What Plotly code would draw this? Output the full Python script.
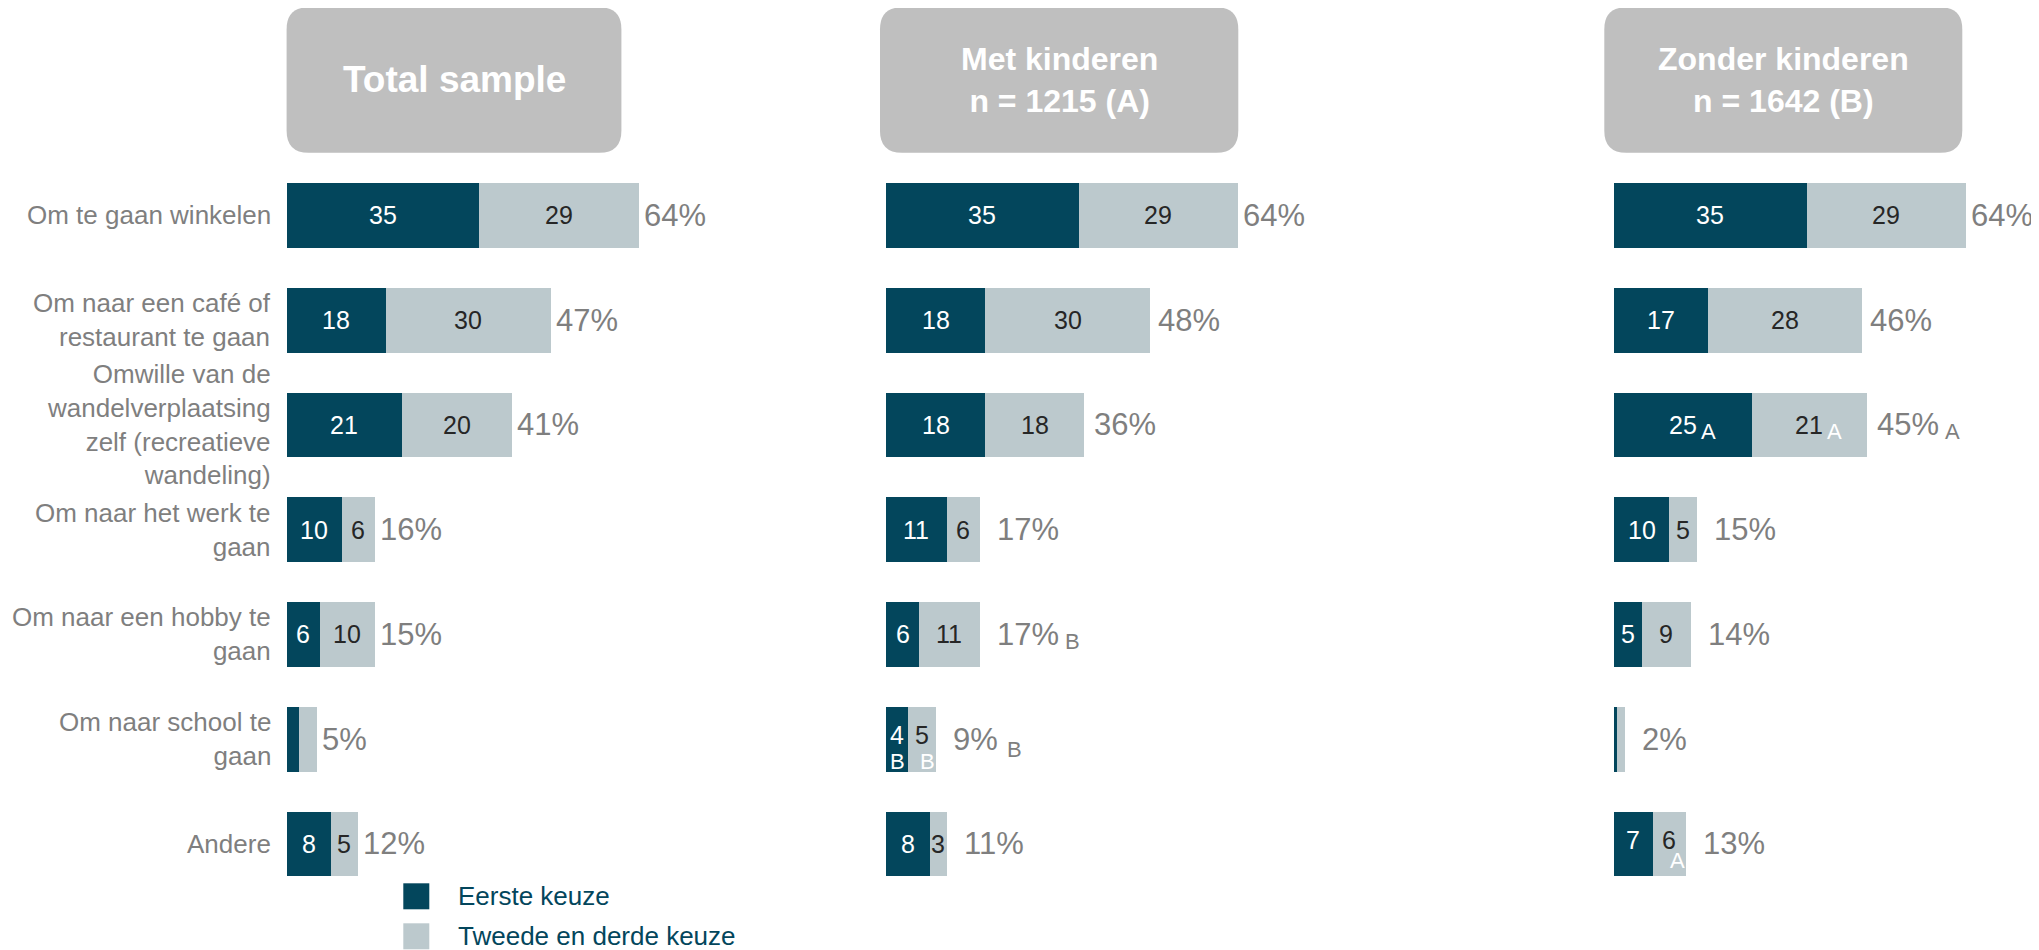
import plotly.graph_objects as go

# ---------------- data ----------------
categories = [
    "Om te gaan winkelen",
    "Om naar een café of restaurant te gaan",
    "Omwille van de wandelverplaatsing zelf (recreatieve wandeling)",
    "Om naar het werk te gaan",
    "Om naar een hobby te gaan",
    "Om naar school te gaan",
    "Andere",
]
category_labels = [
    "Om te gaan winkelen",
    "Om naar een café of<br>restaurant te gaan",
    "Omwille van de<br>wandelverplaatsing<br>zelf (recreatieve<br>wandeling)",
    "Om naar het werk te<br>gaan",
    "Om naar een hobby te<br>gaan",
    "Om naar school te<br>gaan",
    "Andere",
]
panel_titles = ["Total sample", "Met kinderen<br>n = 1215 (A)", "Zonder kinderen<br>n = 1642 (B)"]
series_names = ["Eerste keuze", "Tweede en derde keuze"]

total_first = [35, 18, 21, 10, 6, 2.3, 8]
total_second = [29, 30, 20, 6, 10, 3.2, 5]
total_pct = [64, 47, 41, 16, 15, 5, 12]

met_first = [35, 18, 18, 11, 6, 4, 8]
met_second = [29, 30, 18, 6, 11, 5, 3]
met_pct = [64, 48, 36, 17, 17, 9, 11]

zonder_first = [35, 17, 25, 10, 5, 0.6, 7]
zonder_second = [29, 28, 21, 5, 9, 1.4, 6]
zonder_pct = [64, 46, 45, 15, 14, 2, 13]

# value labels that are not printed (bar too thin): (panel, row)
unlabelled = [(0, 5), (2, 5)]

# significance letters: (panel, row, part, letter)
sig_letters = [
    (1, 4, "total", "B"),
    (1, 5, "first", "B"),
    (1, 5, "second", "B"),
    (1, 5, "total", "B"),
    (2, 2, "first", "A"),
    (2, 2, "second", "A"),
    (2, 2, "total", "A"),
    (2, 6, "second", "A"),
]

# ---------------- style ----------------
W, H = 2039, 950
OFF = 8  # page body margin
DARK = "#03465C"
LIGHT = "#BCC9CD"
HEAD = "#BFBFBF"
GREY = "#7F7F7F"
TXT_DARK = "#262626"
FONT = "Arial, Liberation Sans, sans-serif"
PX_PER_UNIT = 5.5
XMAX = 70
panel_left_px = [286.5, 886, 1614]
header_boxes_px = [(286.6, 7.3, 621.4, 152.7), (880, 7.3, 1238.3, 152.7), (1604.3, 7.3, 1962.3, 152.7)]
header_sizes = [37, 32, 32]
plot_top_px, plot_bot_px = 163, 896.3
pct_gap = [[3] * 7, [3, 6, 8, 15, 15, 15, 15], [3, 6, 8, 15, 15, 15, 15]]
PCT_SIZE = 31
LETTER_SIZE = 22
# placement of in-bar letters
letter_mode = {(1, 5): "below", (2, 2): "right", (2, 6): "below-right"}
# approximate Arial advance widths (em) used to place letters after texts
CHAR_W = {"%": 0.889}

firsts = [total_first, met_first, zonder_first]
seconds = [total_second, met_second, zonder_second]
pcts = [total_pct, met_pct, zonder_pct]


def px(x):
    return (x - OFF) / W


def py(y):
    return 1 - (y - OFF) / H


def text_w(s, size):
    return sum(CHAR_W.get(c, 0.556) for c in s) * size


fig = go.Figure()
annotations = []
shapes = []

for p in range(3):
    xa = "x" if p == 0 else f"x{p+1}"
    ya = "y" if p == 0 else f"y{p+1}"
    fig.add_trace(go.Bar(y=categories, x=firsts[p], orientation="h", name=series_names[0],
                         marker=dict(color=DARK, line=dict(width=0)), xaxis=xa, yaxis=ya,
                         showlegend=False))
    fig.add_trace(go.Bar(y=categories, x=seconds[p], orientation="h", name=series_names[1],
                         marker=dict(color=LIGHT, line=dict(width=0)), xaxis=xa, yaxis=ya,
                         showlegend=False))
    x0 = panel_left_px[p]
    dom = [px(x0), px(x0 + XMAX * PX_PER_UNIT)]
    axkey = "xaxis" if p == 0 else f"xaxis{p+1}"
    aykey = "yaxis" if p == 0 else f"yaxis{p+1}"
    fig.update_layout(**{
        axkey: dict(domain=dom, range=[0, XMAX], visible=False, fixedrange=True, anchor=ya),
        aykey: dict(domain=[py(plot_bot_px), py(plot_top_px)], type="category",
                    categoryorder="array", categoryarray=categories,
                    range=[6.5, -0.5], visible=False, anchor=xa),
    })

    sig_here = {(r, part): l for (pp, r, part, l) in sig_letters if pp == p}

    for r, cat in enumerate(categories):
        f, s = firsts[p][r], seconds[p][r]
        mode = letter_mode.get((p, r))
        vshift = 4 if mode in ("below", "below-right") else 0
        if (p, r) not in unlabelled:
            annotations.append(dict(x=f / 2, y=cat, xref=xa, yref=ya, text=f"{f:g}",
                                    showarrow=False, font=dict(family=FONT, size=25, color="white"),
                                    xanchor="center", yanchor="middle", yshift=vshift))
            annotations.append(dict(x=f + s / 2, y=cat, xref=xa, yref=ya, text=f"{s:g}",
                                    showarrow=False, font=dict(family=FONT, size=25, color=TXT_DARK),
                                    xanchor="center", yanchor="middle", yshift=vshift))
        # in-bar significance letters
        for part, cx, val in (("first", f / 2, f), ("second", f + s / 2, s)):
            if (r, part) in sig_here:
                letter = sig_here[(r, part)]
                if mode == "right":
                    xs = text_w(f"{val:g}", 25) / 2 + 2
                    annotations.append(dict(x=cx, y=cat, xref=xa, yref=ya, text=letter,
                                            showarrow=False, font=dict(family=FONT, size=LETTER_SIZE, color="white"),
                                            xanchor="left", yanchor="middle", xshift=xs, yshift=-7))
                elif mode == "below":
                    annotations.append(dict(x=cx, y=cat, xref=xa, yref=ya, text=letter,
                                            showarrow=False, font=dict(family=FONT, size=LETTER_SIZE, color="white"),
                                            xanchor="center", yanchor="middle",
                                            xshift=0 if part == "first" else 6, yshift=-22))
                else:
                    annotations.append(dict(x=cx, y=cat, xref=xa, yref=ya, text=letter,
                                            showarrow=False, font=dict(family=FONT, size=LETTER_SIZE, color="white"),
                                            xanchor="center", yanchor="middle", xshift=8, yshift=-17))
        # total percentage
        pct_txt = f"{pcts[p][r]}%"
        annotations.append(dict(x=f + s, y=cat, xref=xa, yref=ya, text=pct_txt, showarrow=False,
                                font=dict(family=FONT, size=PCT_SIZE, color=GREY),
                                xanchor="left", yanchor="middle", xshift=pct_gap[p][r]))
        if (r, "total") in sig_here:
            gap_letter = 10 if pcts[p][r] < 10 else 6
            annotations.append(dict(x=f + s, y=cat, xref=xa, yref=ya, text=sig_here[(r, "total")],
                                    showarrow=False,
                                    font=dict(family=FONT, size=LETTER_SIZE, color=GREY),
                                    xanchor="left", yanchor="middle",
                                    xshift=pct_gap[p][r] + text_w(pct_txt, PCT_SIZE) + gap_letter,
                                    yshift=-7 if pcts[p][r] >= 10 else -10))

    # header box
    bx0, by0, bx1, by1 = header_boxes_px[p]
    rad = 22
    pts = [("M", bx0 + rad, by0), ("L", bx1 - rad, by0), ("Q", bx1, by0, bx1, by0 + rad),
           ("L", bx1, by1 - rad), ("Q", bx1, by1, bx1 - rad, by1), ("L", bx0 + rad, by1),
           ("Q", bx0, by1, bx0, by1 - rad), ("L", bx0, by0 + rad), ("Q", bx0, by0, bx0 + rad, by0)]
    path = ""
    for cmd in pts:
        c = cmd[0]
        coords = cmd[1:]
        seg = " ".join(f"{px(coords[i]):.6f},{py(coords[i+1]):.6f}" for i in range(0, len(coords), 2))
        path += f"{c} {seg} "
    path += "Z"
    shapes.append(dict(type="path", path=path, xref="paper", yref="paper",
                       fillcolor=HEAD, line=dict(width=0), layer="below"))
    annotations.append(dict(x=px((bx0 + bx1) / 2), y=py((by0 + by1) / 2), xref="paper", yref="paper",
                            text=f"<b>{panel_titles[p]}</b>", showarrow=False,
                            font=dict(family=FONT, size=header_sizes[p], color="white"),
                            xanchor="center", yanchor="middle", align="center"))

# category labels
for cat, lab in zip(categories, category_labels):
    annotations.append(dict(x=px(273), y=cat, xref="paper", yref="y", text=lab, showarrow=False,
                            font=dict(family=FONT, size=26, color=GREY),
                            xanchor="right", yanchor="middle", align="right"))

# legend (manual, to match the large swatches)
legend_rows = [(DARK, 883.3, series_names[0]), (LIGHT, 923.3, series_names[1])]
for col, top, name in legend_rows:
    shapes.append(dict(type="rect", xref="paper", yref="paper", x0=px(403.3), x1=px(429.3),
                       y0=py(top + 26), y1=py(top), fillcolor=col, line=dict(width=0)))
    annotations.append(dict(x=px(456), y=py(top + 13), xref="paper", yref="paper", text=name,
                            showarrow=False, font=dict(family=FONT, size=26, color=DARK),
                            xanchor="left", yanchor="middle"))

fig.update_layout(
    width=W, height=H, margin=dict(l=0, r=0, t=0, b=0),
    paper_bgcolor="white", plot_bgcolor="white",
    barmode="stack", bargap=0.382, showlegend=False,
    annotations=annotations, shapes=shapes,
)

fig.write_html("out.html")
